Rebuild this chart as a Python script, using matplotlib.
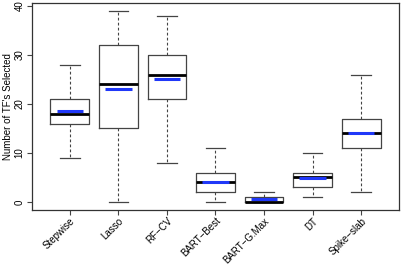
import matplotlib
matplotlib.use("Agg")
import matplotlib.pyplot as plt

methods = ["Stepwise", "Lasso", "RF\u2212CV", "BART\u2212Best", "BART\u2212G.Max", "DT", "Spike\u2212slab"]
whislo = [9, 0, 8, 0, 0, 1, 2]
q1 = [16, 15, 21, 2, 0, 3, 11]
med = [18, 24, 26, 4, 0, 5, 14]
q3 = [21, 32, 30, 6, 1, 6, 17]
whishi = [28, 39, 38, 11, 2, 10, 26]
means = [18.5, 23.0, 25.2, 4.15, 0.7, 4.8, 14.0]

plt.rcParams['font.family'] = ['Liberation Sans', 'DejaVu Sans']
fig = plt.figure(figsize=(4.02, 2.66), dpi=100)
ax = fig.add_axes([32/402, 1 - 209.6/266, (399-32)/402, (209.6-3.3)/266])

stats = []
for i in range(len(methods)):
    stats.append(dict(whislo=whislo[i], q1=q1[i], med=med[i], q3=q3[i], whishi=whishi[i], fliers=[]))
pos = list(range(1, len(methods) + 1))
ax.bxp(stats, positions=pos, widths=0.8, showfliers=False,
       boxprops=dict(color='#444444', linewidth=0.9),
       whiskerprops=dict(color='#444444', linewidth=0.8, linestyle=(0, (2.5, 2))),
       capprops=dict(color='#444444', linewidth=0.9),
       medianprops=dict(color='black', linewidth=2.0),
       capwidths=0.4)
for p, m in zip(pos, means):
    ax.plot([p - 0.27, p + 0.27], [m, m], color='#2038f8', linewidth=2.2, solid_capstyle='butt', zorder=5)

ax.set_xlim(0.22, 7.78)
ax.set_ylim(-1.56, 40.56)
ax.set_yticks([0, 10, 20, 30, 40])
ax.set_yticklabels(['0', '10', '20', '30', '40'], rotation=90, va='center', fontsize=7)
ax.set_xticks(pos)
ax.set_xticklabels(methods, rotation=45, ha='right', va='top', rotation_mode='anchor', fontsize=7)
ax.tick_params(axis='x', pad=1)
ax.tick_params(axis='both', length=3.5, width=0.8, color='#444444')
ax.tick_params(axis='y', pad=2)
ax.set_ylabel("Number of TF's Selected", fontsize=7, labelpad=1)
for s in ax.spines.values():
    s.set_linewidth(0.9)
    s.set_color('#333333')

fig.savefig("out.png", dpi=100)
